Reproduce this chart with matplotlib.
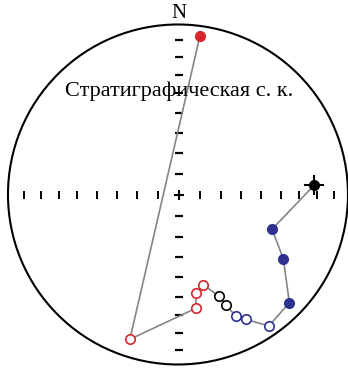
"""Стереограмма (равноплощадная проекция) компонент NRM, стратиграфическая система координат."""
import numpy as np
import matplotlib.pyplot as plt
from matplotlib.patches import Circle

# шаги размагничивания: склонение D, наклонение I (I>0 — нижняя полусфера)
dec = [85.8, 110.2, 121.4, 134.3, 145.6, 151.7, 154.8, 156.9, 158.4,
       164.9, 170.2, 171.5, 198.8, 7.5]
inc = [21.3, 41.3, 28.9, 10.2, -7.3, -18.1, -22.2, -30.2, -36.3,
       -44.4, -41.0, -33.1, -11.3, 6.3]
colors = ["black", "#2e3192", "#2e3192", "#2e3192", "#2e3192", "#2e3192", "#2e3192",
          "black", "black", "#d7262e", "#d7262e", "#d7262e", "#d7262e", "#d7262e"]
tick_inc = [80, 70, 60, 50, 40, 30, 20, 10]
title = "Стратиграфическая с. к."

SERIF = ["Liberation Serif", "DejaVu Serif"]


def project(d, i):
    """Ламбертова равноплощадная проекция, радиус сетки = 1."""
    d = np.radians(np.asarray(d, float))
    i = np.radians(np.abs(np.asarray(i, float)))
    r = np.sqrt(2) * np.sin((np.pi / 2 - i) / 2)
    return r * np.sin(d), r * np.cos(d)


fig = plt.figure(figsize=(3.48, 3.70), dpi=100)
ax = fig.add_axes([0, 0, 1, 1])
ax.set_xlim(-179 / 170, 169 / 170)
ax.set_ylim(-175 / 170, 195 / 170)
ax.set_aspect("equal")
ax.axis("off")

ax.add_patch(Circle((-0.006, 0.003), 1.0, fill=False, ec="black", lw=1.5))

# метки наклонения через 10°
tx, ty = project([90] * len(tick_inc), tick_inc)
ax.plot(tx, ty * 0, ls="none", marker="|", ms=5.5, mew=1.4, color="black")
ax.plot(-tx, ty * 0, ls="none", marker="|", ms=5.5, mew=1.4, color="black")
ax.plot(ty * 0, tx, ls="none", marker="_", ms=6, mew=1.6, color="black")
ax.plot(ty * 0, -tx, ls="none", marker="_", ms=6, mew=1.6, color="black")
ax.plot(0, 0, marker="+", ms=7, mew=1.5, color="black")

x, y = project(dec, inc)
ax.plot(x, y, color="#858585", lw=1.2, zorder=2)
for xi, yi, ii, c in zip(x, y, inc, colors):
    ax.plot(xi, yi, marker="o", ms=6.8, mew=1.2, mec=c,
            mfc=c if ii > 0 else "white", zorder=3)
# первая точка (NRM) дополнительно крестом
ax.plot(x[0], y[0], marker="+", ms=15, mew=1.5, color="black", zorder=4)

ax.text(0, 0.61, title, ha="center", va="center", fontsize=16, family=SERIF)
ax.text(0, 1.07, "N", ha="center", va="center", fontsize=15, family=SERIF)

fig.savefig("out.png", dpi=100)
